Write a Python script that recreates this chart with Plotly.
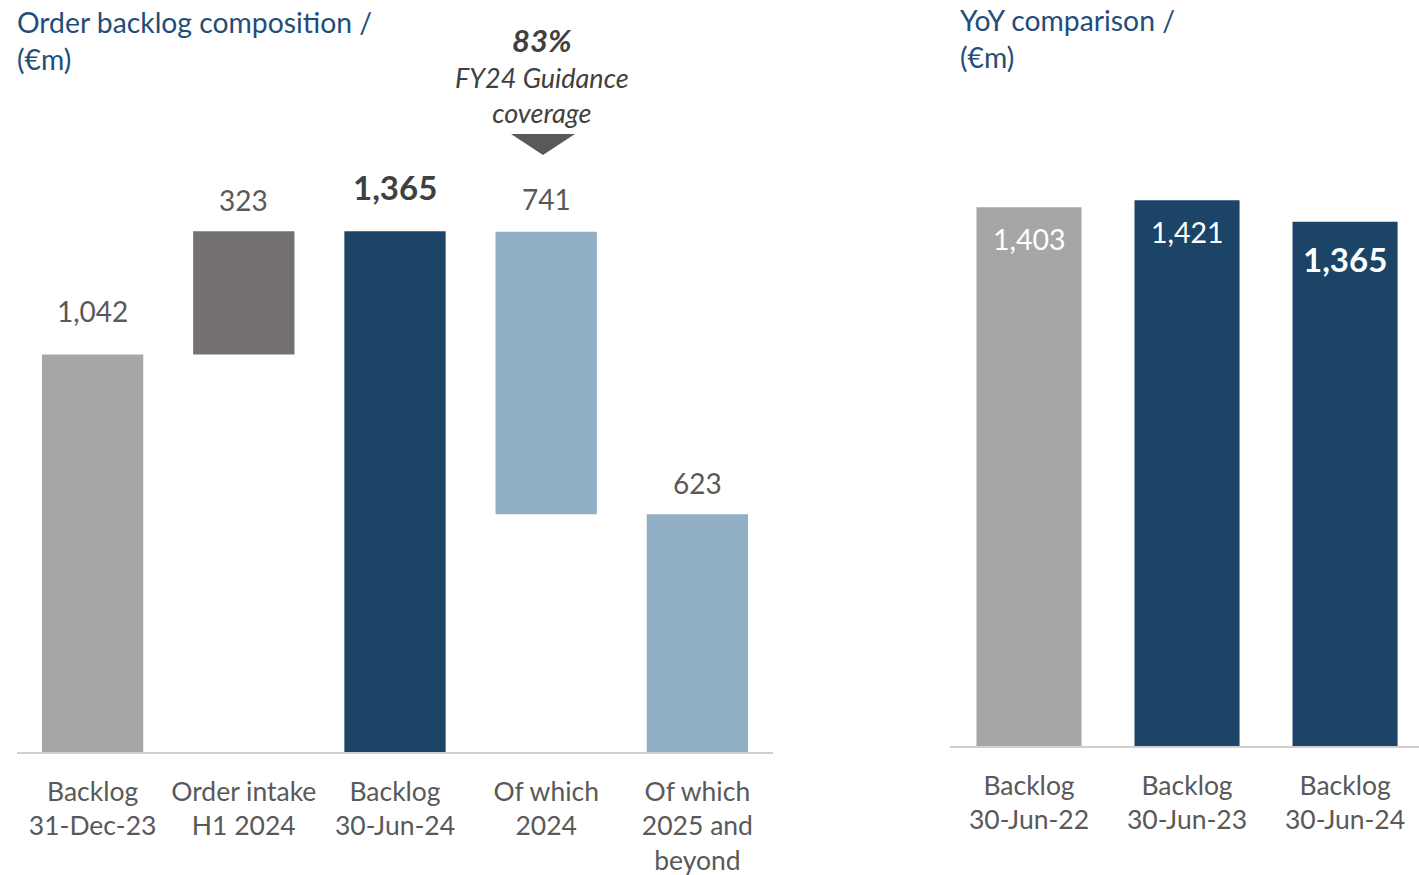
import plotly.graph_objects as go

# ---- data ----
comp_categories = ["Backlog<br>31-Dec-23", "Order intake<br>H1 2024", "Backlog<br>30-Jun-24",
                   "Of which<br>2024", "Of which<br>2025 and<br>beyond"]
comp_values = [1042, 323, 1365, 741, 623]
comp_bases = [0, 1042, 0, 623, 0]
comp_labels = ["1,042", "323", "1,365", "741", "623"]

yoy_categories = ["Backlog<br>30-Jun-22", "Backlog<br>30-Jun-23", "Backlog<br>30-Jun-24"]
yoy_values = [1403, 1421, 1365]
yoy_labels = ["1,403", "1,421", "1,365"]

guidance_pct = "83%"

# ---- styles ----
FONT = "Lato"
GRAY = "#a6a6a6"
DARKGRAY = "#767171"
NAVY = "#1c4466"
LIGHTBLUE = "#91afc5"
TEXT = "#595959"
TITLE = "#1f4e79"

comp_colors = [GRAY, DARKGRAY, NAVY, LIGHTBLUE, LIGHTBLUE]
comp_bold = [False, False, True, False, False]
comp_label_lift = [43, 31, 44, 33, 31]   # px between bar top and label centre
yoy_colors = [GRAY, NAVY, NAVY]
yoy_bold = [False, False, True]

fig = go.Figure()

fig.add_trace(go.Bar(
    x=comp_categories, y=comp_values, base=comp_bases,
    marker=dict(color=comp_colors, line=dict(width=0)),
    width=0.67, xaxis="x", yaxis="y", hoverinfo="skip",
))
fig.add_trace(go.Bar(
    x=yoy_categories, y=yoy_values,
    marker=dict(color=yoy_colors, line=dict(width=0)),
    width=0.665, xaxis="x2", yaxis="y2", hoverinfo="skip",
))

annotations = []
for cat, val, base, lab, bold, lift in zip(comp_categories, comp_values, comp_bases, comp_labels,
                                           comp_bold, comp_label_lift):
    annotations.append(dict(
        x=cat, y=base + val, xref="x", yref="y", text=f"<b>{lab}</b>" if bold else lab,
        showarrow=False, yanchor="middle", yshift=lift,
        font=dict(family=FONT, size=33 if bold else 28, color="#404040" if bold else TEXT),
    ))
for cat, val, lab, bold in zip(yoy_categories, yoy_values, yoy_labels, yoy_bold):
    annotations.append(dict(
        x=cat, y=val, xref="x2", yref="y2", text=f"<b>{lab}</b>" if bold else lab,
        showarrow=False, yanchor="middle", yshift=-37 if bold else -32,
        font=dict(family=FONT, size=33 if bold else 28.5, color="white"),
    ))

# panel titles
annotations.append(dict(x=15 / 1419, y=1 - 3 / 875, xref="paper", yref="paper", xanchor="left", yanchor="top",
                        align="left", showarrow=False, text="Order backlog composition /<br>(€m)",
                        font=dict(family=FONT, size=28.3, color=TITLE)))
annotations.append(dict(x=958 / 1419, y=1 - 1 / 875, xref="paper", yref="paper", xanchor="left", yanchor="top",
                        align="left", showarrow=False, text="YoY comparison /<br>(€m)",
                        font=dict(family=FONT, size=28.3, color=TITLE)))

# guidance callout above "Of which 2024"
annotations.append(dict(x=542 / 1419, y=1 - 40 / 875, xref="paper", yref="paper", yanchor="middle",
                        showarrow=False, text=f"<b><i>{guidance_pct}</i></b>",
                        font=dict(family=FONT, size=31, color="#404040")))
annotations.append(dict(x=542 / 1419, y=1 - 95 / 875, xref="paper", yref="paper", yanchor="middle",
                        showarrow=False, text="<i>FY24 Guidance<br>coverage</i>",
                        font=dict(family=FONT, size=27, color="#404040")))

shapes = [dict(
    type="path", xref="paper", yref="paper",
    path=f"M {511/1419} {1-134/875} L {575/1419} {1-134/875} L {543/1419} {1-155/875} Z",
    fillcolor="#595959", line=dict(width=0),
)]

axis_common = dict(showgrid=False, zeroline=False, showline=True, linecolor="#d0d0d0", linewidth=2,
                   ticks="outside", ticklen=15, tickcolor="rgba(0,0,0,0)", automargin=False,
                   tickfont=dict(family=FONT, size=26.5, color=TEXT), fixedrange=True)

fig.update_layout(
    width=1419, height=875,
    margin=dict(l=0, r=0, t=0, b=0, autoexpand=False),
    paper_bgcolor="white", plot_bgcolor="white",
    showlegend=False, bargap=0.33,
    xaxis=dict(domain=[17 / 1419, 773 / 1419], anchor="y", **axis_common),
    xaxis2=dict(domain=[950 / 1419, 1.0], anchor="y2", range=[-0.5, 2.468], **axis_common),
    yaxis=dict(domain=[123 / 875, 775 / 875], range=[0, 652 / 0.3815], visible=False, fixedrange=True),
    yaxis2=dict(domain=[129 / 875, 775 / 875], range=[0, 646 / 0.384], visible=False, fixedrange=True),
    annotations=annotations, shapes=shapes,
)

fig.write_html("out.html")
